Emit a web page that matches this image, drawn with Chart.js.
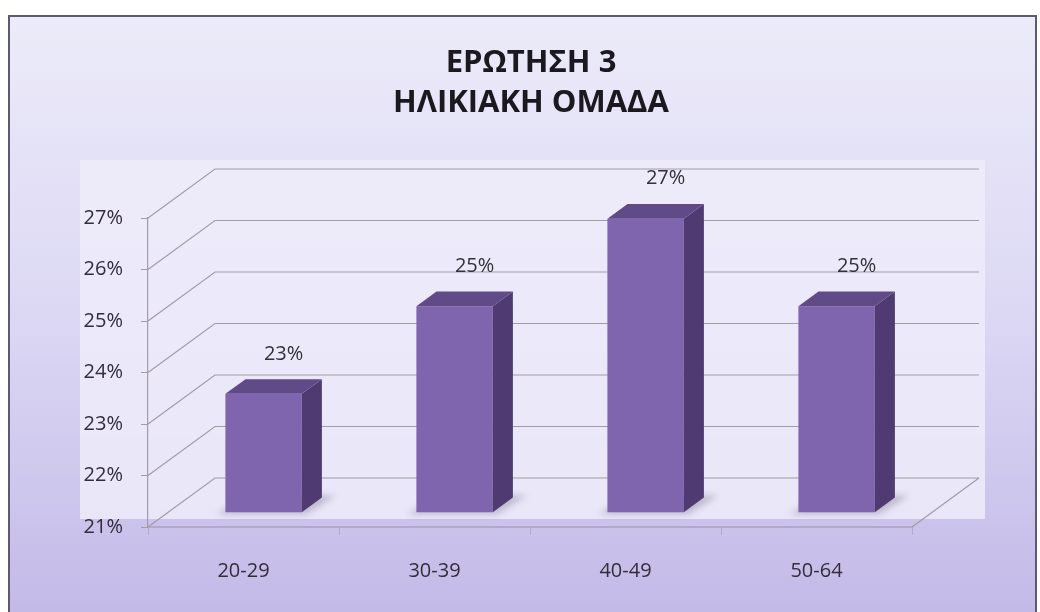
<!DOCTYPE html>
<html><head><meta charset="utf-8">
<script src="https://cdn.jsdelivr.net/npm/chart.js@4"></script>
<style>html,body{margin:0;padding:0;background:#fff;} canvas{display:block}</style>
</head><body>
<canvas id="c" width="1040" height="612"></canvas>
<script>
const categories = ['20-29', '30-39', '40-49', '50-64'];
const values = [23.3, 25.0, 26.7, 25.0];
const valueLabels = ['23%', '25%', '27%', '25%'];
const yMin = 21, yMax = 27, yStep = 1;
const titleLines = ['ΕΡΩΤΗΣΗ 3', 'ΗΛΙΚΙΑΚΗ ΟΜΑΔΑ'];

const DX = 67, DY = -49;          // depth of the 3D box
const BAR_OFF = 0.3, BAR_D = 0.3; // bar front depth and bar thickness (fractions)
const FONT = "'Open Sans', 'DejaVu Sans', sans-serif";

const bgPlugin = {
  id: 'bg',
  beforeDraw(chart) {
    const ctx = chart.ctx, W = chart.width, H = chart.height;
    ctx.save();
    ctx.fillStyle = '#fff'; ctx.fillRect(0, 0, W, H);
    const g = ctx.createLinearGradient(0, 15, 0, H);
    g.addColorStop(0, '#ecebf9'); g.addColorStop(0.5, '#dcd8f4'); g.addColorStop(1, '#c3bae8');
    ctx.fillStyle = g; ctx.fillRect(9, 16, W - 12, H - 16);
    ctx.fillStyle = 'rgba(238,236,250,0.85)';
    ctx.fillRect(80, 160, 905, 359);
    ctx.strokeStyle = '#5e5870'; ctx.lineWidth = 2;
    ctx.beginPath(); ctx.moveTo(9, H); ctx.lineTo(9, 16); ctx.lineTo(W - 4, 16); ctx.lineTo(W - 4, H); ctx.stroke();
    ctx.restore();
  }
};

const box3d = {
  id: 'box3d',
  beforeDatasetsDraw(chart) {
    const ctx = chart.ctx, y = chart.scales.y, a = chart.chartArea;
    ctx.save();
    ctx.strokeStyle = '#a39ca4'; ctx.lineWidth = 1.2;
    for (let v = yMin; v <= yMax; v += yStep) {
      const py = y.getPixelForValue(v);
      ctx.beginPath();
      ctx.moveTo(a.left, py); ctx.lineTo(a.left + DX, py + DY);
      ctx.lineTo(a.right + DX, py + DY);
      ctx.stroke();
    }
    const pb = y.getPixelForValue(yMin);
    ctx.beginPath(); ctx.moveTo(a.right, pb); ctx.lineTo(a.right + DX, pb + DY); ctx.stroke();
    // floor shadows
    const meta = chart.getDatasetMeta(0);
    ctx.filter = 'blur(3px)';
    ctx.fillStyle = 'rgba(110,100,130,0.35)';
    meta.data.forEach(b => {
      const l = b.x - b.width / 2 + DX * BAR_OFF, r = b.x + b.width / 2 + DX * BAR_OFF;
      const fy = pb + DY * BAR_OFF;
      ctx.beginPath();
      ctx.moveTo(l - 8, fy + 2); ctx.lineTo(r + 4, fy + 2);
      ctx.lineTo(r + DX * BAR_D + 14, fy + DY * BAR_D - 2); ctx.lineTo(l + DX * BAR_D, fy + DY * BAR_D - 2);
      ctx.closePath(); ctx.fill();
    });
    ctx.filter = 'none';
    ctx.restore();
    ctx.save();
    ctx.translate(DX * BAR_OFF, DY * BAR_OFF);
  },
  afterDatasetsDraw(chart) {
    const ctx = chart.ctx;
    const meta = chart.getDatasetMeta(0);
    const floor = chart.scales.y.getPixelForValue(yMin);
    const dx = DX * BAR_D, dy = DY * BAR_D;
    meta.data.forEach((b, i) => {
      const l = b.x - b.width / 2, r = b.x + b.width / 2, t = b.y, base = Math.min(b.base, floor);
      ctx.fillStyle = '#4f3a72';
      ctx.beginPath();
      ctx.moveTo(r, t); ctx.lineTo(r + dx, t + dy); ctx.lineTo(r + dx, base + dy); ctx.lineTo(r, base);
      ctx.closePath(); ctx.fill();
      ctx.fillStyle = '#614a88';
      ctx.beginPath();
      ctx.moveTo(l, t); ctx.lineTo(l + dx, t + dy); ctx.lineTo(r + dx, t + dy); ctx.lineTo(r, t);
      ctx.closePath(); ctx.fill();
      ctx.fillStyle = '#34303a';
      ctx.font = '20px ' + FONT;
      ctx.textAlign = 'center'; ctx.textBaseline = 'middle';
      ctx.fillText(valueLabels[i], b.x + 20, t - 40);
    });
    ctx.restore();
  }
};

new Chart(document.getElementById('c'), {
  type: 'bar',
  data: {
    labels: categories,
    datasets: [{ data: values, backgroundColor: '#7f64ae', borderWidth: 0,
      barPercentage: 0.4, categoryPercentage: 1 }]
  },
  plugins: [bgPlugin, box3d],
  options: {
    responsive: false, devicePixelRatio: 1, animation: false,
    layout: { padding: { left: 22, right: 0, top: 15, bottom: 25 } },
    plugins: {
      legend: { display: false }, tooltip: { enabled: false },
      title: { display: true, text: titleLines, color: '#1c1820',
        font: { family: FONT, size: 31, weight: 'bold', lineHeight: 40 / 31 },
        padding: { top: 28, bottom: 95 } }
    },
    scales: {
      x: {
        afterFit: s => { s.height = 60; },
        grid: { drawOnChartArea: false, drawTicks: true, tickLength: 8, color: 'rgba(150,140,165,0.45)', offset: true },
        border: { color: 'rgba(150,140,165,0.45)', width: 2 },
        ticks: { color: '#332d3a', font: { family: FONT, size: 20 }, padding: 24 }
      },
      y: {
        min: yMin, max: yMax,
        afterFit: s => { s.width = 126; },
        grid: { drawOnChartArea: false, drawTicks: true, tickLength: 7, color: '#a39ca4' },
        border: { color: '#a39ca4', width: 1.2 },
        ticks: { stepSize: yStep, color: '#332d3a', font: { family: FONT, size: 20 }, padding: 18,
          callback: v => v + '%' }
      },
      y2: {
        position: 'right', min: yMin, max: yMax, display: true,
        afterFit: s => { s.width = 128; },
        grid: { display: false, drawTicks: false }, border: { display: false },
        ticks: { display: false }
      }
    }
  }
});
</script>
</body></html>
